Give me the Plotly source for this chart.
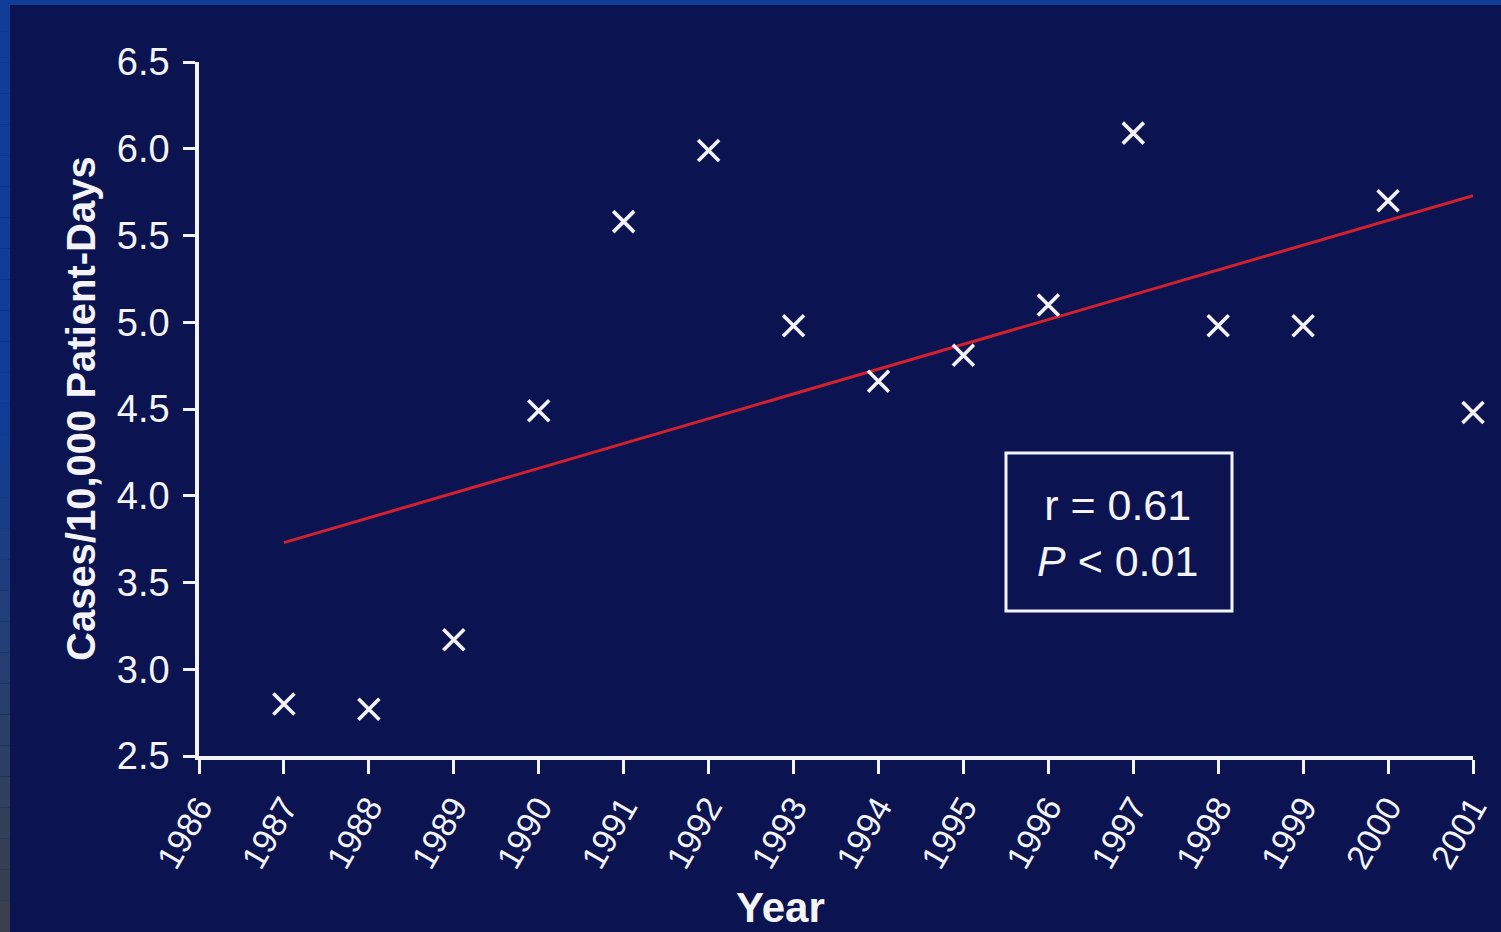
import plotly.graph_objects as go

# ---- data ----
years = [1987, 1988, 1989, 1990, 1991, 1992, 1993, 1994, 1995, 1996, 1997, 1998, 1999, 2000, 2001]
cases = [2.80, 2.77, 3.17, 4.49, 5.58, 5.99, 4.98, 4.66, 4.81, 5.10, 6.09, 4.98, 4.98, 5.70, 4.48]
trend_years = [1987, 2001]
trend_values = [3.73, 5.73]
x_ticks = list(range(1986, 2002))
y_ticks = [2.5, 3.0, 3.5, 4.0, 4.5, 5.0, 5.5, 6.0, 6.5]
y_tick_labels = ["2.5", "3.0", "3.5", "4.0", "4.5", "5.0", "5.5", "6.0", "6.5"]
stats_text = "r = 0.61<br><i>P</i> < 0.01"

FONT = "Liberation Sans, Arial, Helvetica, sans-serif"
NAVY = "#0b1450"
WHITE = "#f4f4f8"

W, H = 1501, 932
L, R, T, B = 199, 28, 62, 176
pw, ph = W - L - R, H - T - B


def px(p):
    return (p - L) / pw


def py(q):
    return (H - B - q) / ph


fig = go.Figure()

fig.add_trace(go.Scatter(
    x=trend_years, y=trend_values, mode="lines",
    line=dict(color="#d2202f", width=3),
    hoverinfo="skip", showlegend=False,
))

fig.add_trace(go.Scatter(
    x=years, y=cases, mode="markers",
    marker=dict(symbol="x-thin", size=21, line=dict(color=WHITE, width=3.6)),
    cliponaxis=False, showlegend=False,
))

shapes = []
# top blue border strip
shapes.append(dict(type="rect", xref="paper", yref="paper", layer="below",
                   x0=px(0), x1=px(W), y0=py(5), y1=py(0),
                   fillcolor="#0f3d98", line=dict(width=0)))
# left border strip with vertical gradient (blue -> gray)
n = 30
c_top = (15, 61, 152)
c_bot = (60, 64, 74)
for i in range(n):
    q0 = i * H / n
    q1 = (i + 1) * H / n
    t = max(0.0, (q0 - 380) / (H - 380))
    c = tuple(int(c_top[k] + (c_bot[k] - c_top[k]) * t) for k in range(3))
    shapes.append(dict(type="rect", xref="paper", yref="paper", layer="below",
                       x0=px(0), x1=px(10), y0=py(q1), y1=py(q0),
                       fillcolor="rgb(%d,%d,%d)" % c, line=dict(width=0)))
# stats box
shapes.append(dict(type="rect", xref="paper", yref="paper",
                   x0=px(1006), x1=px(1232), y0=py(611), y1=py(453),
                   line=dict(color=WHITE, width=3)))

annotations = [
    dict(text=stats_text, xref="paper", yref="paper", x=px(1117), y=py(533),
         showarrow=False, font=dict(family=FONT, size=43, color=WHITE),
         align="center", xanchor="center", yanchor="middle"),
    dict(text="<b>Cases/10,000 Patient-Days</b>", xref="paper", yref="paper",
         x=px(81), y=0.5, textangle=-90, showarrow=False,
         font=dict(family=FONT, size=40, color=WHITE),
         xanchor="center", yanchor="middle"),
    dict(text="<b>Year</b>", xref="paper", yref="paper",
         x=px(780), y=py(907), showarrow=False,
         font=dict(family=FONT, size=42, color=WHITE),
         xanchor="center", yanchor="middle"),
]

fig.update_layout(
    width=W, height=H,
    margin=dict(l=L, r=R, t=T, b=B),
    paper_bgcolor=NAVY, plot_bgcolor=NAVY,
    shapes=shapes, annotations=annotations,
    showlegend=False,
    xaxis=dict(
        range=[1986, 2001], tickvals=x_ticks, ticktext=[str(v) for v in x_ticks],
        tickangle=-60, ticks="outside", ticklen=14, tickwidth=3, tickcolor=WHITE,
        showline=True, linecolor=WHITE, linewidth=3.5, showgrid=False, zeroline=False,
        tickfont=dict(family=FONT, size=34, color=WHITE), automargin=False,
    ),
    yaxis=dict(
        range=[2.5, 6.5], tickvals=y_ticks, ticktext=y_tick_labels,
        ticks="outside", ticklen=12, tickwidth=3, tickcolor=WHITE,
        showline=True, linecolor=WHITE, linewidth=3.5, showgrid=False, zeroline=False,
        tickfont=dict(family=FONT, size=38, color=WHITE), ticklabelstandoff=6,
        automargin=False,
    ),
)

fig.write_html(
    "out.html",
    config={"displayModeBar": False},
    post_script="document.body.style.margin='0';document.body.style.overflow='hidden';"
                "document.body.style.background='" + NAVY + "';",
)
